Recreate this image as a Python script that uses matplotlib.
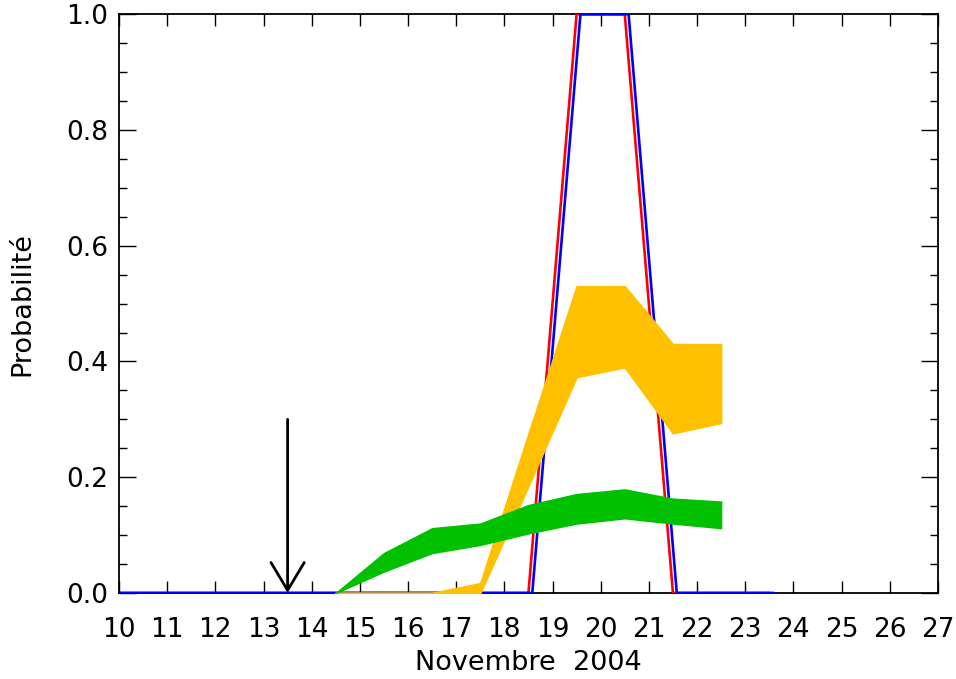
import numpy as np
import matplotlib.pyplot as plt
from matplotlib.ticker import MultipleLocator, FormatStrFormatter

# jours (milieu de journée) pour les courbes rouge / bleue
days = [9.5, 10.5, 11.5, 12.5, 13.5, 14.5, 15.5, 16.5, 17.5, 18.5,
        19.5, 20.5, 21.5, 22.5, 23.5]
red_prob = [0, 0, 0, 0, 0, 0, 0, 0, 0, 0, 1, 1, 0, 0, 0]
blue_prob = [0, 0, 0, 0, 0, 0, 0, 0, 0, 0, 1, 1, 0, 0, 0]
blue_shift = 0.08  # décalage en jours de la courbe bleue

# bandes d'incertitude
band_days = [14.5, 15.5, 16.5, 17.5, 18.5, 19.5, 20.5, 21.5, 22.5]
yellow_low = [0, 0, 0, 0, 0.185, 0.373, 0.39, 0.276, 0.294]
yellow_high = [0, 0, 0, 0.017, 0.275, 0.53, 0.53, 0.43, 0.43]
green_low = [0, 0.037, 0.069, 0.083, 0.103, 0.120, 0.129, 0.120, 0.112]
green_high = [0, 0.069, 0.112, 0.120, 0.152, 0.171, 0.179, 0.163, 0.158]

# flèche : date de l'événement
event_day = 13.5
arrow_top = 0.3

xticks = list(range(10, 28))

plt.rcParams['font.family'] = ['DejaVu Sans']

fig = plt.figure(figsize=(9.56, 6.79), dpi=100)
ax = fig.add_axes([0.1245, 0.1267, 0.8565, 0.8523])

ax.plot(days, red_prob, color='#ff0000', lw=1.9, zorder=3)
ax.plot(np.array(days) + blue_shift, blue_prob, color='#0000ff', lw=1.9, zorder=3)

ax.fill_between(band_days, yellow_low, yellow_high, facecolor='#ffc000',
                edgecolor='#ffc000', lw=1.2, zorder=4)
ax.fill_between(band_days, green_low, green_high, facecolor='#00c000',
                edgecolor='#00c000', lw=1.0, zorder=5)

ax.annotate('', xy=(event_day, 0), xytext=(event_day, arrow_top),
            arrowprops=dict(arrowstyle='->,head_length=2.0,head_width=1.2',
                            color='black', lw=2.0, shrinkA=0, shrinkB=0),
            zorder=6)

ax.set_xlim(10, 27)
ax.set_ylim(0, 1)
ax.set_xticks(xticks)
ax.yaxis.set_major_locator(MultipleLocator(0.2))
ax.yaxis.set_minor_locator(MultipleLocator(0.05))
ax.yaxis.set_major_formatter(FormatStrFormatter('%.1f'))

ax.tick_params(axis='x', which='major', direction='in', length=8.5, width=1.0,
               top=True, labelsize=19, pad=17)
ax.tick_params(axis='y', which='major', direction='in', length=12, width=1.0,
               right=True, labelsize=19, pad=8)
ax.tick_params(axis='y', which='minor', direction='in', length=6, width=1.0,
               right=True)
for s in ax.spines.values():
    s.set_linewidth(1.3)

ax.set_xlabel('Novembre  2004', fontsize=19.5, labelpad=5)
ax.set_ylabel('Probabilité', fontsize=19.5, labelpad=22)

fig.savefig('out.png', dpi=100, facecolor='white')
